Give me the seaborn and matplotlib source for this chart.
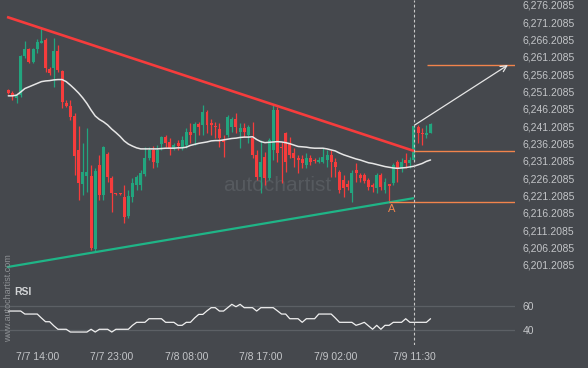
import matplotlib
matplotlib.use('Agg')
import matplotlib.pyplot as plt
from matplotlib.patches import Rectangle
import seaborn as sns
import numpy as np
import pandas as pd

# 30-minute candles, index 0 = first candle on the left
opens = [6251.7, 6250.9, 6249.4, 6250.2, 6261.5, 6263.4, 6259.9, 6263.4, 6265.3, 6266.1,
         6257.7, 6257.9, 6262.9, 6257.2, 6248.0, 6247.1, 6244.2, 6234.4, 6224.5, 6226.9,
         6226.9, 6205.7, 6230.0, 6221.4, 6233.2, 6226.2, 6222.0, 6221.8, 6220.9, 6215.3,
         6220.9, 6224.3, 6224.3, 6227.5, 6232.0, 6234.4, 6230.7, 6236.1, 6238.0, 6236.8,
         6234.9, 6236.4, 6235.3, 6235.8, 6239.7, 6239.2, 6241.8, 6241.6, 6245.4, 6242.1,
         6241.1, 6240.4, 6237.3, 6238.7, 6241.1, 6243.2, 6239.7, 6240.6, 6238.7, 6237.8,
         6232.9, 6226.7, 6232.4, 6226.2, 6234.4, 6245.9, 6235.3, 6239.2, 6236.3, 6233.4,
         6232.0, 6231.7, 6230.0, 6232.0, 6231.3, 6231.0, 6231.0, 6231.5, 6232.9, 6231.0,
         6228.1, 6225.7, 6224.6, 6221.9, 6228.6, 6227.2, 6227.2, 6225.7, 6224.3, 6223.3,
         6227.2, 6222.8, 6224.6, 6224.8, 6231.0, 6229.1, 6231.5, 6230.5, 6231.5, 6240.9,
         6239.4, 6238.7, 6239.4]
highs = [6252.0, 6251.4, 6250.5, 6261.8, 6265.9, 6263.8, 6263.8, 6266.3, 6269.9, 6266.7,
         6258.4, 6266.6, 6264.7, 6257.5, 6248.8, 6248.8, 6245.1, 6241.3, 6236.4, 6240.7,
         6230.0, 6229.2, 6232.9, 6235.5, 6233.8, 6226.9, 6222.1, 6222.0, 6224.3, 6222.8,
         6226.3, 6227.2, 6228.6, 6235.2, 6235.3, 6235.5, 6235.8, 6238.4, 6238.7, 6237.8,
         6236.4, 6237.3, 6238.4, 6240.7, 6242.2, 6242.5, 6242.5, 6247.4, 6245.9, 6243.2,
         6242.5, 6242.1, 6238.7, 6244.5, 6244.0, 6245.0, 6242.1, 6242.1, 6241.6, 6242.5,
         6234.4, 6237.3, 6233.9, 6237.8, 6247.4, 6246.9, 6236.8, 6239.7, 6238.2, 6234.9,
         6232.9, 6232.9, 6233.4, 6232.9, 6232.0, 6232.4, 6234.9, 6234.4, 6234.4, 6232.0,
         6228.6, 6227.2, 6225.7, 6228.6, 6230.5, 6227.6, 6227.6, 6226.2, 6224.8, 6227.6,
         6227.6, 6226.2, 6224.6, 6230.5, 6231.5, 6232.0, 6233.4, 6232.4, 6241.6, 6241.6,
         6240.7, 6241.6, 6242.2]
lows = [6250.5, 6248.8, 6248.0, 6249.7, 6260.8, 6259.5, 6259.4, 6262.3, 6265.2, 6257.0,
        6256.0, 6252.5, 6256.9, 6246.5, 6246.7, 6243.0, 6227.2, 6220.0, 6221.4, 6222.3,
        6205.5, 6205.2, 6220.0, 6220.0, 6225.2, 6216.6, 6221.5, 6221.4, 6213.2, 6214.8,
        6219.5, 6222.8, 6222.8, 6226.9, 6231.5, 6229.2, 6229.6, 6234.4, 6235.3, 6232.9,
        6234.4, 6234.4, 6234.4, 6235.0, 6236.4, 6235.8, 6238.7, 6238.7, 6239.2, 6238.7,
        6237.8, 6235.3, 6232.4, 6238.2, 6239.7, 6239.2, 6234.9, 6238.2, 6236.3, 6232.0,
        6225.7, 6221.9, 6224.3, 6225.7, 6231.5, 6231.0, 6224.8, 6228.1, 6232.0, 6229.6,
        6227.6, 6229.1, 6229.1, 6230.0, 6230.6, 6230.5, 6230.5, 6229.6, 6226.7, 6226.7,
        6221.9, 6220.9, 6222.8, 6219.5, 6225.2, 6225.2, 6224.8, 6222.8, 6222.3, 6221.9,
        6222.8, 6221.9, 6219.5, 6224.3, 6225.2, 6228.1, 6229.1, 6229.1, 6231.2, 6236.3,
        6235.8, 6237.8, 6239.2]
closes = [6250.9, 6250.0, 6250.0, 6261.5, 6263.4, 6259.9, 6263.4, 6265.6, 6265.9, 6257.9,
          6256.7, 6263.0, 6257.5, 6248.2, 6247.1, 6244.0, 6232.6, 6224.9, 6228.1, 6228.1,
          6206.1, 6228.3, 6221.4, 6235.3, 6226.5, 6221.9, 6221.7, 6221.6, 6215.1, 6221.1,
          6224.8, 6226.7, 6227.7, 6232.0, 6234.4, 6231.0, 6234.4, 6238.0, 6236.5, 6234.9,
          6235.8, 6235.6, 6237.3, 6239.7, 6238.7, 6241.8, 6241.1, 6245.4, 6241.6, 6241.6,
          6240.9, 6237.8, 6236.8, 6244.0, 6243.2, 6240.9, 6240.6, 6239.7, 6240.9, 6232.9,
          6226.7, 6231.0, 6226.2, 6237.3, 6245.9, 6233.4, 6234.9, 6231.0, 6232.9, 6232.0,
          6231.5, 6230.5, 6232.0, 6231.0, 6231.2, 6231.5, 6232.4, 6232.9, 6231.0, 6229.6,
          6222.8, 6223.3, 6223.6, 6227.6, 6227.6, 6226.2, 6225.5, 6223.8, 6223.6, 6227.2,
          6223.8, 6225.2, 6224.0, 6230.0, 6229.1, 6231.0, 6230.5, 6231.5, 6241.3, 6239.2,
          6239.0, 6239.2, 6241.9]
moving_avg = [6250.0, 6250.0, 6250.2, 6251.1, 6252.1, 6252.6, 6253.1, 6253.6, 6254.1, 6254.3,
              6254.4, 6254.6, 6254.7, 6254.7, 6254.1, 6253.1, 6252.0, 6250.8, 6249.4, 6247.8,
              6245.9, 6244.2, 6243.2, 6242.5, 6241.6, 6240.4, 6239.4, 6238.3, 6237.0, 6236.1,
              6235.5, 6235.0, 6234.7, 6234.7, 6234.7, 6234.7, 6234.7, 6234.8, 6234.9, 6234.9,
              6234.9, 6235.0, 6235.0, 6235.2, 6235.7, 6236.0, 6236.3, 6236.5, 6236.7, 6237.0,
              6237.1, 6237.1, 6237.3, 6237.5, 6237.7, 6237.8, 6238.0, 6238.1, 6238.1, 6238.2,
              6237.4, 6236.8, 6236.5, 6236.6, 6236.7, 6236.8, 6236.7, 6236.5, 6236.2, 6235.8,
              6235.4, 6235.3, 6235.2, 6235.0, 6234.9, 6234.9, 6234.9, 6234.7, 6234.4, 6234.1,
              6233.5, 6233.0, 6232.6, 6232.2, 6231.8, 6231.5, 6231.1, 6230.7, 6230.5, 6230.2,
              6229.9, 6229.6, 6229.4, 6229.2, 6229.1, 6229.2, 6229.3, 6229.5, 6229.7, 6230.1,
              6230.5, 6231.1, 6231.5]
rsi = [55.8, 55.8, 55.8, 55.8, 53.3, 53.3, 53.3, 53.3, 50.0, 46.9,
       46.9, 43.5, 40.6, 40.6, 40.6, 38.3, 38.3, 38.3, 38.3, 38.3,
       40.6, 38.3, 40.6, 40.6, 40.6, 38.3, 40.6, 40.6, 40.6, 40.6,
       43.9, 46.4, 46.4, 46.4, 49.4, 49.4, 49.4, 49.4, 46.4, 46.4,
       46.4, 43.9, 43.9, 46.4, 46.4, 50.0, 53.0, 53.0, 56.0, 58.6,
       58.6, 55.8, 55.8, 58.6, 61.4, 59.4, 61.4, 58.6, 58.6, 58.6,
       55.8, 58.6, 58.6, 58.6, 58.6, 56.0, 53.3, 53.3, 49.4, 49.4,
       49.4, 46.4, 49.4, 49.4, 49.4, 53.3, 53.3, 53.3, 53.3, 50.0,
       46.4, 46.4, 46.4, 46.4, 43.9, 45.0, 46.4, 43.5, 40.6, 43.9,
       40.6, 43.9, 43.9, 46.4, 46.4, 46.4, 49.4, 46.4, 46.4, 46.4,
       46.4, 46.4, 49.4]

price_ticks = [6201.2085, 6206.2085, 6211.2085, 6216.2085, 6221.2085, 6226.2085,
               6231.2085, 6236.2085, 6241.2085, 6246.2085, 6251.2085, 6256.2085,
               6261.2085, 6266.2085, 6271.2085, 6276.2085]
time_labels = ['7/7 14:00', '7/7 23:00', '7/8 08:00', '7/8 17:00', '7/9 02:00', '7/9 11:30']
time_idx = [7, 25, 43, 61, 79, 98]
rsi_ticks = [40, 60]

# triangle pattern and breakout
resistance_x = [-0.3, 98]
resistance_y = [6272.75, 6234.1]
support_x = [-0.3, 98]
support_y = [6200.6, 6220.5]
breakout_idx = 98
breakout_price = 6234.1
a_idx = 92
a_price = 6219.4
forecast_x = [98.2, 120.7]
forecast_y = [6241.6, 6258.9]
target_start = 101.1

BG = '#45484d'
TXT = '#c3c5c8'
GREEN = '#22a57e'
RED = '#f63c3c'
ORANGE = '#f2844c'
MARK = '#565a5f'

sns.set_theme(style='dark', rc={'axes.facecolor': BG, 'figure.facecolor': BG,
                                'axes.edgecolor': BG})
plt.rcParams['font.family'] = ['Liberation Sans', 'DejaVu Sans']

df = pd.DataFrame({'idx': np.arange(len(opens)), 'open': opens, 'high': highs,
                   'low': lows, 'close': closes, 'ma': moving_avg, 'rsi': rsi})
df['up'] = df['close'] >= df['open']
df['color'] = np.where(df['up'], GREEN, RED)
df['bottom'] = df[['open', 'close']].min(axis=1)
df['height'] = (df['close'] - df['open']).abs().clip(lower=0.35)

W, H = 588, 368
fig = plt.figure(figsize=(W / 100, H / 100), dpi=100)
ax = fig.add_axes([0, 1 - 282 / H, 515 / W, 282 / H])
ax_rsi = fig.add_axes([0, 23 / H, 515 / W, 62 / H])

xlim = (-2.0, 122.4)

# faded logo watermark
ax.text(65.0, 6224.0, 'autochartist', fontsize=15, color=MARK,
        ha='center', va='center', zorder=0)
for k, hgt in enumerate([6, 9, 7, 12, 10, 14, 11, 17]):
    fig.add_artist(Rectangle(((184 + k * 6.2) / W, 1 - 190 / H), 3.5 / W, hgt / H,
                             transform=fig.transFigure, color=MARK, lw=0, zorder=0))

# candles
ax.vlines(df['idx'], df['low'], df['high'], colors=df['color'], lw=0.9, zorder=2)
ax.bar(df['idx'], df['height'], bottom=df['bottom'], width=0.72,
       color=df['color'], linewidth=0, zorder=2)

sns.lineplot(data=df, x='idx', y='ma', ax=ax, color='#e6e6e6', lw=1.1, zorder=4)

ax.plot(resistance_x, resistance_y, color=RED, lw=1.9, solid_capstyle='butt', zorder=3)
ax.plot(support_x, support_y, color='#1fb587', lw=1.6, solid_capstyle='butt', zorder=3)

ax.hlines(breakout_price, breakout_idx, xlim[1], color=ORANGE, lw=1.0, zorder=3)
ax.hlines(a_price, a_idx, xlim[1], color=ORANGE, lw=1.0, zorder=3)
ax.hlines(forecast_y[1], target_start, xlim[1], color=ORANGE, lw=1.0, zorder=3)
ax.text(a_idx + 0.7, a_price - 2.0, 'A', color=ORANGE, fontsize=8,
        ha='center', va='center')
ax.annotate('', xy=(forecast_x[1], forecast_y[1]), xytext=(forecast_x[0], forecast_y[0]),
            arrowprops=dict(arrowstyle='->', color='#e6e6e6', lw=0.9,
                            mutation_scale=11, shrinkA=0, shrinkB=0), zorder=5)

for a in (ax, ax_rsi):
    a.axvline(breakout_idx, color='#c8c8c8', lw=0.8, ls=(0, (2.5, 2)), zorder=5)
    a.set_xlim(*xlim)
    a.set_facecolor(BG)
    for s in a.spines.values():
        s.set_visible(False)
    a.set_xlabel('')
    a.set_ylabel('')

ax.set_ylim(6196.3, 6277.65)
ax.yaxis.tick_right()
ax.set_yticks(price_ticks)
ax.set_yticklabels([f'{v:,.4f}' for v in price_ticks])
ax.tick_params(axis='y', length=0, pad=5.5, labelsize=7.5, labelcolor=TXT)
ax.set_xticks([])
ax.grid(False)

# RSI panel
sns.lineplot(data=df, x='idx', y='rsi', ax=ax_rsi, color='#f0f0f0', lw=0.9, zorder=3)
ax_rsi.set_ylim(27.5, 79.17)
ax_rsi.yaxis.tick_right()
ax_rsi.set_yticks(rsi_ticks)
ax_rsi.set_yticklabels([str(v) for v in rsi_ticks])
ax_rsi.grid(False)
for v in rsi_ticks:
    ax_rsi.axhline(v, color='#5c6065', lw=0.9, zorder=1)
ax_rsi.set_xticks(time_idx)
ax_rsi.set_xticklabels(time_labels)
ax_rsi.tick_params(axis='both', length=0, labelsize=7.5, labelcolor=TXT)
ax_rsi.tick_params(axis='x', pad=5)
ax_rsi.tick_params(axis='y', pad=5.5)
ax_rsi.set_xlabel('')
ax_rsi.set_ylabel('')
ax_rsi.text(0.0285, 0.86, 'RSI', transform=ax_rsi.transAxes, fontsize=7.5,
            fontweight='bold', color='#d2d4d6', ha='left', va='center')

fig.text(9 / W, 1 - 298 / H, 'www.autochartist.com', rotation=90, fontsize=6.5,
         color='#8e9195', ha='center', va='center')

fig.savefig('out.png', dpi=100, facecolor=BG)
